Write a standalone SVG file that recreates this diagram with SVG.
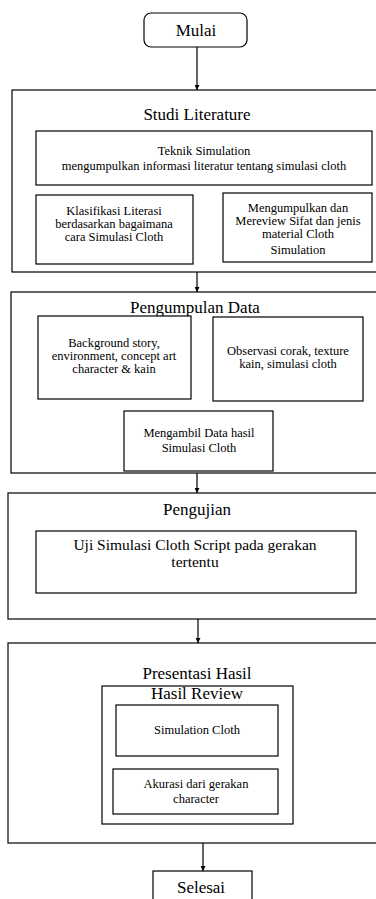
<svg xmlns="http://www.w3.org/2000/svg" width="376" height="899" viewBox="0 0 376 899">
<style>
rect{fill:#fff;stroke:#000;stroke-width:1.2}
text{font-family:"Liberation Serif","Times New Roman",serif;fill:#000;text-anchor:middle}
.t{font-size:17px}
.s{font-size:12.5px}
.m{font-size:15.5px}
.c line{stroke:#000;stroke-width:1.2}
</style>
<defs>
<marker id="ah" viewBox="0 0 10 10" refX="10" refY="5" markerWidth="5" markerHeight="5" markerUnits="userSpaceOnUse" orient="auto">
<path d="M0,0 L10,5 L0,10 z" fill="#000"/>
</marker>
</defs>
<rect width="376" height="899" style="fill:#fff;stroke:none"/>
<g id="mulai"><rect x="144" y="13" width="103" height="34" rx="7"/><text class="t" x="196" y="36">Mulai</text></g>
<g id="studi"><rect x="12" y="90" width="380" height="182"/><text class="t" x="197" y="120">Studi Literature</text></g>
<g id="teknik"><rect x="36" y="131" width="336" height="54"/><text class="s" x="204" y="155">Teknik Simulation</text><text class="s" x="204" y="170">mengumpulkan informasi literatur tentang simulasi cloth</text></g>
<g id="klasifikasi"><rect x="36" y="195" width="157" height="69"/><text class="s" x="114" y="215">Klasifikasi Literasi</text><text class="s" x="114" y="228">berdasarkan bagaimana</text><text class="s" x="114" y="241">cara Simulasi Cloth</text></g>
<g id="mengumpulkan"><rect x="223" y="193" width="149" height="69"/><text class="s" x="298" y="212">Mengumpulkan dan</text><text class="s" x="298" y="225">Mereview Sifat dan jenis</text><text class="s" x="298" y="238">material Cloth</text><text class="s" x="298" y="254">Simulation</text></g>
<g id="pengumpulan"><rect x="11" y="292" width="380" height="181"/><text class="t" x="195" y="313">Pengumpulan Data</text></g>
<g id="background"><rect x="38" y="316" width="153" height="83"/><text class="s" x="114" y="347">Background story,</text><text class="s" x="114" y="360">environment, concept art</text><text class="s" x="114" y="373">character &amp; kain</text></g>
<g id="observasi"><rect x="213" y="317" width="150" height="84"/><text class="s" x="288" y="355">Observasi corak, texture</text><text class="s" x="288" y="368">kain, simulasi cloth</text></g>
<g id="mengambil"><rect x="124" y="411" width="149" height="60"/><text class="s" x="199" y="437">Mengambil Data hasil</text><text class="s" x="199" y="452">Simulasi Cloth</text></g>
<g id="pengujian"><rect x="8" y="493" width="380" height="126"/><text class="t" x="197" y="515">Pengujian</text></g>
<g id="uji"><rect x="36" y="531" width="320" height="62"/><text class="m" x="195" y="549.5">Uji Simulasi Cloth Script pada gerakan</text><text class="m" x="195" y="566.5">tertentu</text></g>
<g id="presentasi"><rect x="8" y="643" width="380" height="200"/><text class="t" x="197" y="679">Presentasi Hasil</text></g>
<g id="hasilreview"><rect x="102" y="686" width="191" height="138"/><text class="t" x="197" y="699">Hasil Review</text></g>
<g id="simcloth"><rect x="116" y="705" width="162" height="51"/><text class="s" x="197" y="734">Simulation Cloth</text></g>
<g id="akurasi"><rect x="113" y="769" width="165" height="45"/><text class="s" x="196" y="788">Akurasi dari gerakan</text><text class="s" x="196" y="803">character</text></g>
<g id="selesai"><rect x="153" y="871" width="99" height="40"/><text class="t" x="201" y="893">Selesai</text></g>
<g class="c" id="connectors">
<line x1="197" y1="47" x2="197" y2="90" marker-end="url(#ah)"/>
<line x1="197" y1="272" x2="197" y2="292" marker-end="url(#ah)"/>
<line x1="197" y1="473" x2="197" y2="493" marker-end="url(#ah)"/>
<line x1="198" y1="619" x2="198" y2="643" marker-end="url(#ah)"/>
<line x1="203" y1="843" x2="203" y2="871" marker-end="url(#ah)"/>
</g>
</svg>
